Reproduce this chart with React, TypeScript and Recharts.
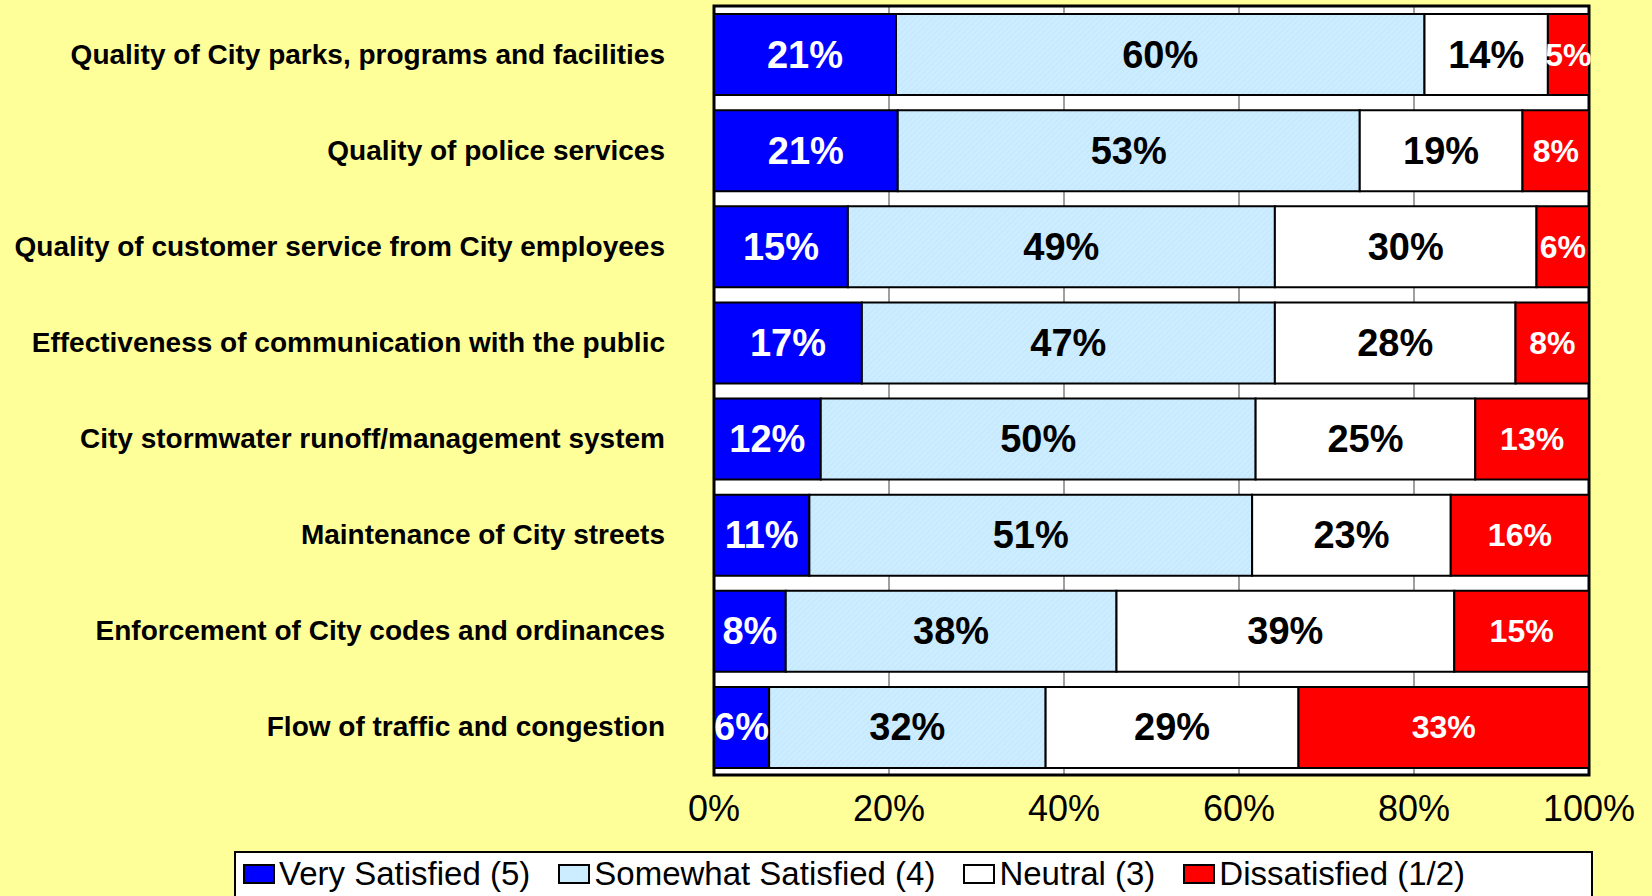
import React from 'react';
import { BarChart, Bar, XAxis, YAxis, CartesianGrid, Legend, LabelList, ReferenceArea } from 'recharts';

const categories = [
  'Quality of City parks, programs and facilities',
  'Quality of police services',
  'Quality of customer service from City employees',
  'Effectiveness of communication with the public',
  'City stormwater runoff/management system',
  'Maintenance of City streets',
  'Enforcement of City codes and ordinances',
  'Flow of traffic and congestion',
];
const verySatisfied = [20.8, 21.0, 15.3, 16.9, 12.2, 10.9, 8.2, 6.3];
const somewhatSatisfied = [60.4, 52.8, 48.8, 47.2, 49.7, 50.6, 37.8, 31.6];
const neutral = [14.1, 18.6, 29.9, 27.5, 25.1, 22.7, 38.6, 28.9];
const dissatisfied = [4.7, 7.6, 6.0, 8.4, 13.0, 15.8, 15.4, 33.2];
const xTicks = [0, 20, 40, 60, 80, 100];
const seriesNames = ['Very Satisfied (5)', 'Somewhat Satisfied (4)', 'Neutral (3)', 'Dissatisfied (1/2)'];
const seriesColors = ['#0000FF', '#CCECFF', '#FFFFFF', '#FF0000'];

const data = categories.map((c, i) => ({
  name: c,
  vs: verySatisfied[i],
  ss: somewhatSatisfied[i],
  ne: neutral[i],
  di: dissatisfied[i],
}));

const FONT = 'Arial, "Liberation Sans", Helvetica, sans-serif';

const CatTick = (props: any) => {
  const { x, y, payload } = props;
  return (
    <text x={x} y={y} textAnchor="end" dominantBaseline="central" fontFamily={FONT} fontSize={28} fontWeight={700} fill="#000">
      {payload.value}
    </text>
  );
};

const makeLabel = (color: string, size: number) => (props: any) => {
  const vb = props.viewBox || props;
  const { x, y, width, height } = vb;
  const v = props.value;
  if (v == null) return null;
  return (
    <text
      x={x + width / 2}
      y={y + height / 2}
      textAnchor="middle"
      dominantBaseline="central"
      fontFamily={FONT}
      fontSize={size}
      fontWeight={700}
      fill={color}
    >
      {`${Math.round(Number(v))}%`}
    </text>
  );
};

const LegendBox = () => (
  <div
    style={{
      boxSizing: 'border-box',
      width: '100%',
      height: '100%',
      background: '#fff',
      border: '2px solid #000',
      borderBottom: 'none',
      display: 'flex',
      alignItems: 'flex-start',
      paddingLeft: 7,
      paddingTop: 3,
      fontFamily: FONT,
      fontSize: 33,
      color: '#000',
    }}
  >
    {seriesNames.map((n, i) => (
      <div key={n} style={{ display: 'flex', alignItems: 'center', marginRight: 28, lineHeight: '36px' }}>
        <span
          style={{
            display: 'inline-block',
            boxSizing: 'border-box',
            width: 32,
            height: 20,
            background: seriesColors[i],
            border: '2px solid #000',
            marginRight: 4,
          }}
        />
        <span style={{ whiteSpace: 'nowrap' }}>{n}</span>
      </div>
    ))}
  </div>
);

export default function App() {
  return (
    <div style={{ position: 'absolute', left: 0, top: 0, width: 1652, height: 896, overflow: 'hidden', background: '#FFFF99' }}>
      <BarChart
        width={1652}
        height={896}
        data={data}
        layout="vertical"
        margin={{ top: 6, right: 63, bottom: 0, left: 0 }}
        barSize={81}
        style={{ background: '#FFFF99' }}
      >
        <defs>
          <pattern id="lbHatch" width="4" height="4" patternUnits="userSpaceOnUse" patternTransform="rotate(45)">
            <rect width="4" height="4" fill="#CCECFF" />
            <line x1="0" y1="0" x2="0" y2="4" stroke="#BFE3FA" strokeWidth="1" />
          </pattern>
        </defs>
        <CartesianGrid horizontal={false} stroke="#808080" strokeWidth={1.5} fill="#FFFFFF" />
        <XAxis
          type="number"
          domain={[0, 100]}
          ticks={xTicks}
          tickFormatter={(v: number) => `${v}%`}
          axisLine={false}
          tickLine={false}
          tickSize={6}
          tickMargin={14}
          height={121}
          interval={0}
          tick={{ fontSize: 36, fill: '#000', fontFamily: FONT }}
        />
        <YAxis
          type="category"
          dataKey="name"
          width={714}
          axisLine={false}
          tickLine={false}
          tickSize={0}
          tickMargin={49}
          interval={0}
          tick={<CatTick />}
        />
        <Bar dataKey="vs" stackId="a" fill={seriesColors[0]} stroke="#000" strokeWidth={2} isAnimationActive={false} name={seriesNames[0]}>
          <LabelList dataKey="vs" content={makeLabel('#FFFFFF', 38)} />
        </Bar>
        <Bar dataKey="ss" stackId="a" fill="url(#lbHatch)" stroke="#000" strokeWidth={2} isAnimationActive={false} name={seriesNames[1]}>
          <LabelList dataKey="ss" content={makeLabel('#000000', 38)} />
        </Bar>
        <Bar dataKey="ne" stackId="a" fill={seriesColors[2]} stroke="#000" strokeWidth={2} isAnimationActive={false} name={seriesNames[2]}>
          <LabelList dataKey="ne" content={makeLabel('#000000', 38)} />
        </Bar>
        <Bar dataKey="di" stackId="a" fill={seriesColors[3]} stroke="#000" strokeWidth={2} isAnimationActive={false} name={seriesNames[3]}>
          <LabelList dataKey="di" content={makeLabel('#FFFFFF', 32)} />
        </Bar>
        <ReferenceArea x1={0} x2={100} fill="none" stroke="#000" strokeWidth={3} ifOverflow="visible" />
        <Legend
          layout="horizontal"
          verticalAlign="middle"
          align="center"
          content={<LegendBox />}
          wrapperStyle={{ left: 234, top: 851, width: 1359, height: 45, right: 'auto', bottom: 'auto' }}
        />
      </BarChart>
    </div>
  );
}
